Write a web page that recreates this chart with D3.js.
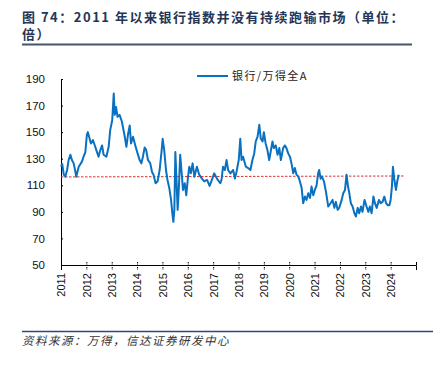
<!DOCTYPE html>
<html>
<head>
<meta charset="utf-8">
<script src="https://cdn.jsdelivr.net/npm/d3@7"></script>
<style>
  body { margin: 0; background: #fff; }
  svg { display: block; }
</style>
</head>
<body>
<div id="chart"></div>
<script>
var titleLines = ["图 74：2011 年以来银行指数并没有持续跑输市场（单位：", "倍）"];
var sourceText = "资料来源：万得，信达证券研发中心";
var seriesName = "银行/万得全A";

var yearTicks = [2011, 2012, 2013, 2014, 2015, 2016, 2017, 2018, 2019, 2020, 2021, 2022, 2023, 2024];
var valueTicks = [50, 70, 90, 110, 130, 150, 170, 190];
var meanLine = [116.3, 117.0];

var dates = [
	2011.00, 2011.05, 2011.11, 2011.17, 2011.24, 2011.30, 2011.37, 2011.43, 2011.50, 2011.57,
	2011.60, 2011.70, 2011.83, 2011.89, 2011.96, 2012.02, 2012.06, 2012.13, 2012.18, 2012.26,
	2012.35, 2012.42, 2012.48, 2012.55, 2012.62, 2012.68, 2012.79, 2012.88, 2012.94, 2013.02,
	2013.08, 2013.12, 2013.17, 2013.23, 2013.31, 2013.40, 2013.50, 2013.58, 2013.64, 2013.71,
	2013.76, 2013.84, 2013.93, 2014.02, 2014.10, 2014.17, 2014.23, 2014.30, 2014.36, 2014.43,
	2014.52, 2014.59, 2014.65, 2014.73, 2014.81, 2014.89, 2014.97, 2015.01, 2015.07, 2015.14,
	2015.20, 2015.27, 2015.34, 2015.39, 2015.43, 2015.47, 2015.51, 2015.55, 2015.60, 2015.65,
	2015.70, 2015.76, 2015.81, 2015.88, 2015.94, 2016.01, 2016.06, 2016.12, 2016.19, 2016.26,
	2016.36, 2016.45, 2016.56, 2016.65, 2016.76, 2016.86, 2016.95, 2017.04, 2017.15, 2017.28,
	2017.33, 2017.39, 2017.46, 2017.53, 2017.59, 2017.68, 2017.79, 2017.86, 2017.92, 2018.01,
	2018.07, 2018.12, 2018.18, 2018.29, 2018.38, 2018.47, 2018.55, 2018.62, 2018.68, 2018.75,
	2018.82, 2018.88, 2018.95, 2019.00, 2019.07, 2019.14, 2019.21, 2019.28, 2019.34, 2019.39,
	2019.47, 2019.54, 2019.61, 2019.67, 2019.76, 2019.83, 2019.89, 2019.96, 2020.03, 2020.09,
	2020.16, 2020.22, 2020.29, 2020.36, 2020.42, 2020.49, 2020.55, 2020.62, 2020.68, 2020.75,
	2020.82, 2020.88, 2020.95, 2021.01, 2021.08, 2021.14, 2021.18, 2021.24, 2021.29, 2021.37,
	2021.45, 2021.54, 2021.63, 2021.71, 2021.78, 2021.84, 2021.91, 2021.97, 2022.07, 2022.13,
	2022.20, 2022.26, 2022.32, 2022.37, 2022.43, 2022.50, 2022.57, 2022.63, 2022.70, 2022.76,
	2022.83, 2022.89, 2022.97, 2023.05, 2023.12, 2023.18, 2023.25, 2023.32, 2023.38, 2023.45,
	2023.54, 2023.61, 2023.68, 2023.75, 2023.82, 2023.88, 2023.95, 2024.00, 2024.05, 2024.09,
	2024.14, 2024.21, 2024.26, 2024.32
];

var ratio = [
	124, 126, 118, 116.5, 121.5, 129, 133, 129, 126.5, 120,
	116.5, 124, 128, 131.5, 135, 148, 150, 145, 141.5, 144,
	139, 135, 131.5, 136.5, 140, 133, 131.5, 139, 151.5, 159,
	179, 163, 169, 161.5, 163, 158, 148, 139, 148, 155,
	141.5, 146.5, 140, 134, 129, 126.5, 131.5, 138.5, 136.5, 129,
	126.5, 120, 118, 111.5, 113, 121.5, 136.5, 145, 136.5, 121.5,
	114, 108, 99, 89, 82.5, 91.5, 135, 116.5, 91.5, 109,
	133, 119, 106.5, 111.5, 102.5, 116.5, 124, 119, 126.5, 116.5,
	124, 118, 115, 113, 114, 109.5, 114, 119, 115, 111.5,
	114, 124, 121.5, 129, 121.5, 119, 121.5, 115, 120, 129,
	145, 129, 131.5, 124, 123, 121.5, 129, 134, 143, 146.5,
	155.5, 145, 143, 150, 141.5, 136.5, 129, 136.5, 143, 138,
	140, 133, 138, 129, 138, 140, 138, 134, 131.5, 126.5,
	119, 123, 118, 116.5, 113, 108, 96.5, 101.5, 99, 104,
	100.5, 109, 102.5, 106.5, 110, 119, 121.5, 115, 116.5, 113,
	105, 94, 96.5, 99, 93, 97.5, 91.5, 93, 99, 104,
	106.5, 118, 109, 104, 96.5, 94, 89, 86.5, 93, 89,
	94, 90, 99, 94, 90, 94, 89, 101.5, 96.5, 93,
	99, 96.5, 97.5, 101.5, 96.5, 95, 95, 99, 109, 124,
	115, 106.5, 113, 118
];

var width = 433, height = 367;
var plotLeft = 61, plotRight = 416, plotTop = 79, plotBottom = 265;

var svg = d3.select("#chart")
	.append("svg")
	.attr("width", width)
	.attr("height", height);

// title
svg.selectAll("text.title")
	.data(titleLines)
	.enter()
	.append("text")
	.classed("title", true)
	.attr("x", 22)
	.attr("y", function(d, i) { return 22 + i * 17; })
	.attr("fill", "#253556")
	.attr("font-family", "'Noto Sans CJK SC', sans-serif")
	.attr("font-weight", "bold")
	.attr("font-size", 13)
	.attr("letter-spacing", 1.5)
	.text(function(d) { return d; });

svg.append("line")
	.attr("x1", 22).attr("x2", 412)
	.attr("y1", 44.5).attr("y2", 44.5)
	.attr("stroke", "#44546a")
	.attr("stroke-width", 2);

var x = d3.scaleLinear()
	.domain([2011, 2025])
	.range([plotLeft, plotRight]);

var y = d3.scaleLinear()
	.domain([50, 190])
	.range([plotBottom, plotTop]);

// y axis
var yAxis = svg.append("g")
	.attr("transform", "translate(" + plotLeft + ",0)")
	.call(d3.axisRight(y).tickValues(valueTicks).tickSize(2).tickSizeOuter(0).tickFormat(d3.format("d")));
yAxis.select(".domain").attr("stroke", "#000");
yAxis.selectAll("text")
	.attr("x", -16)
	.attr("text-anchor", "end")
	.attr("fill", "#111")
	.attr("font-family", "Arial, 'Liberation Sans', sans-serif")
	.attr("font-size", 11.5);

// x axis
var xAxis = svg.append("g")
	.attr("transform", "translate(0," + plotBottom + ")")
	.call(d3.axisBottom(x).tickValues(yearTicks.concat([2025])).tickSizeOuter(0).tickSize(5)
		.tickFormat(function(d) { return d < 2025 ? d + "" : ""; }));
xAxis.select(".domain").attr("stroke", "#000");
xAxis.selectAll(".tick line")
	.attr("y1", -3)
	.attr("y2", function(d) { return d < 2025 ? 5 : 0; })
	.attr("stroke", "#000")
	.attr("stroke-dasharray", function(d) { return d < 2025 ? "1.5,1" : null; });
xAxis.selectAll(".tick text")
	.attr("transform", "rotate(-90)")
	.attr("x", -8)
	.attr("y", 0)
	.attr("dy", "0.35em")
	.attr("text-anchor", "end")
	.attr("fill", "#111")
	.attr("font-family", "Arial, 'Liberation Sans', sans-serif")
	.attr("font-size", 11);

// mean line
svg.append("line")
	.attr("x1", x(2011)).attr("x2", x(2024.55))
	.attr("y1", y(meanLine[0])).attr("y2", y(meanLine[1]))
	.attr("stroke", "#e0302c")
	.attr("stroke-width", 1)
	.attr("stroke-dasharray", "2.5,1.5");

// series
var line = d3.line()
	.x(function(d, i) { return x(dates[i]); })
	.y(function(d) { return y(d); });

svg.append("path")
	.datum(ratio)
	.attr("fill", "none")
	.attr("stroke", "#0a70c0")
	.attr("stroke-width", 2)
	.attr("stroke-linejoin", "round")
	.attr("d", line);

// legend
svg.append("line")
	.attr("x1", 197).attr("x2", 228)
	.attr("y1", 76).attr("y2", 76)
	.attr("stroke", "#0a70c0")
	.attr("stroke-width", 2);
svg.append("text")
	.attr("x", 232)
	.attr("y", 76)
	.attr("dy", "0.35em")
	.attr("fill", "#222")
	.attr("font-family", "'Noto Sans CJK SC', sans-serif")
	.attr("font-size", 11)
	.attr("letter-spacing", 1.4)
	.text(seriesName);

// source
svg.append("line")
	.attr("x1", 22).attr("x2", 433)
	.attr("y1", 331.5).attr("y2", 331.5)
	.attr("stroke", "#2f4a7a")
	.attr("stroke-width", 1.5);
svg.append("text")
	.attr("x", 22)
	.attr("y", 341)
	.attr("dy", "0.35em")
	.attr("fill", "#333")
	.attr("font-family", "'Noto Sans CJK SC', sans-serif")
	.attr("font-style", "italic")
	.attr("font-size", 11.5)
	.attr("letter-spacing", 1.5)
	.text(sourceText);
</script>
</body>
</html>
